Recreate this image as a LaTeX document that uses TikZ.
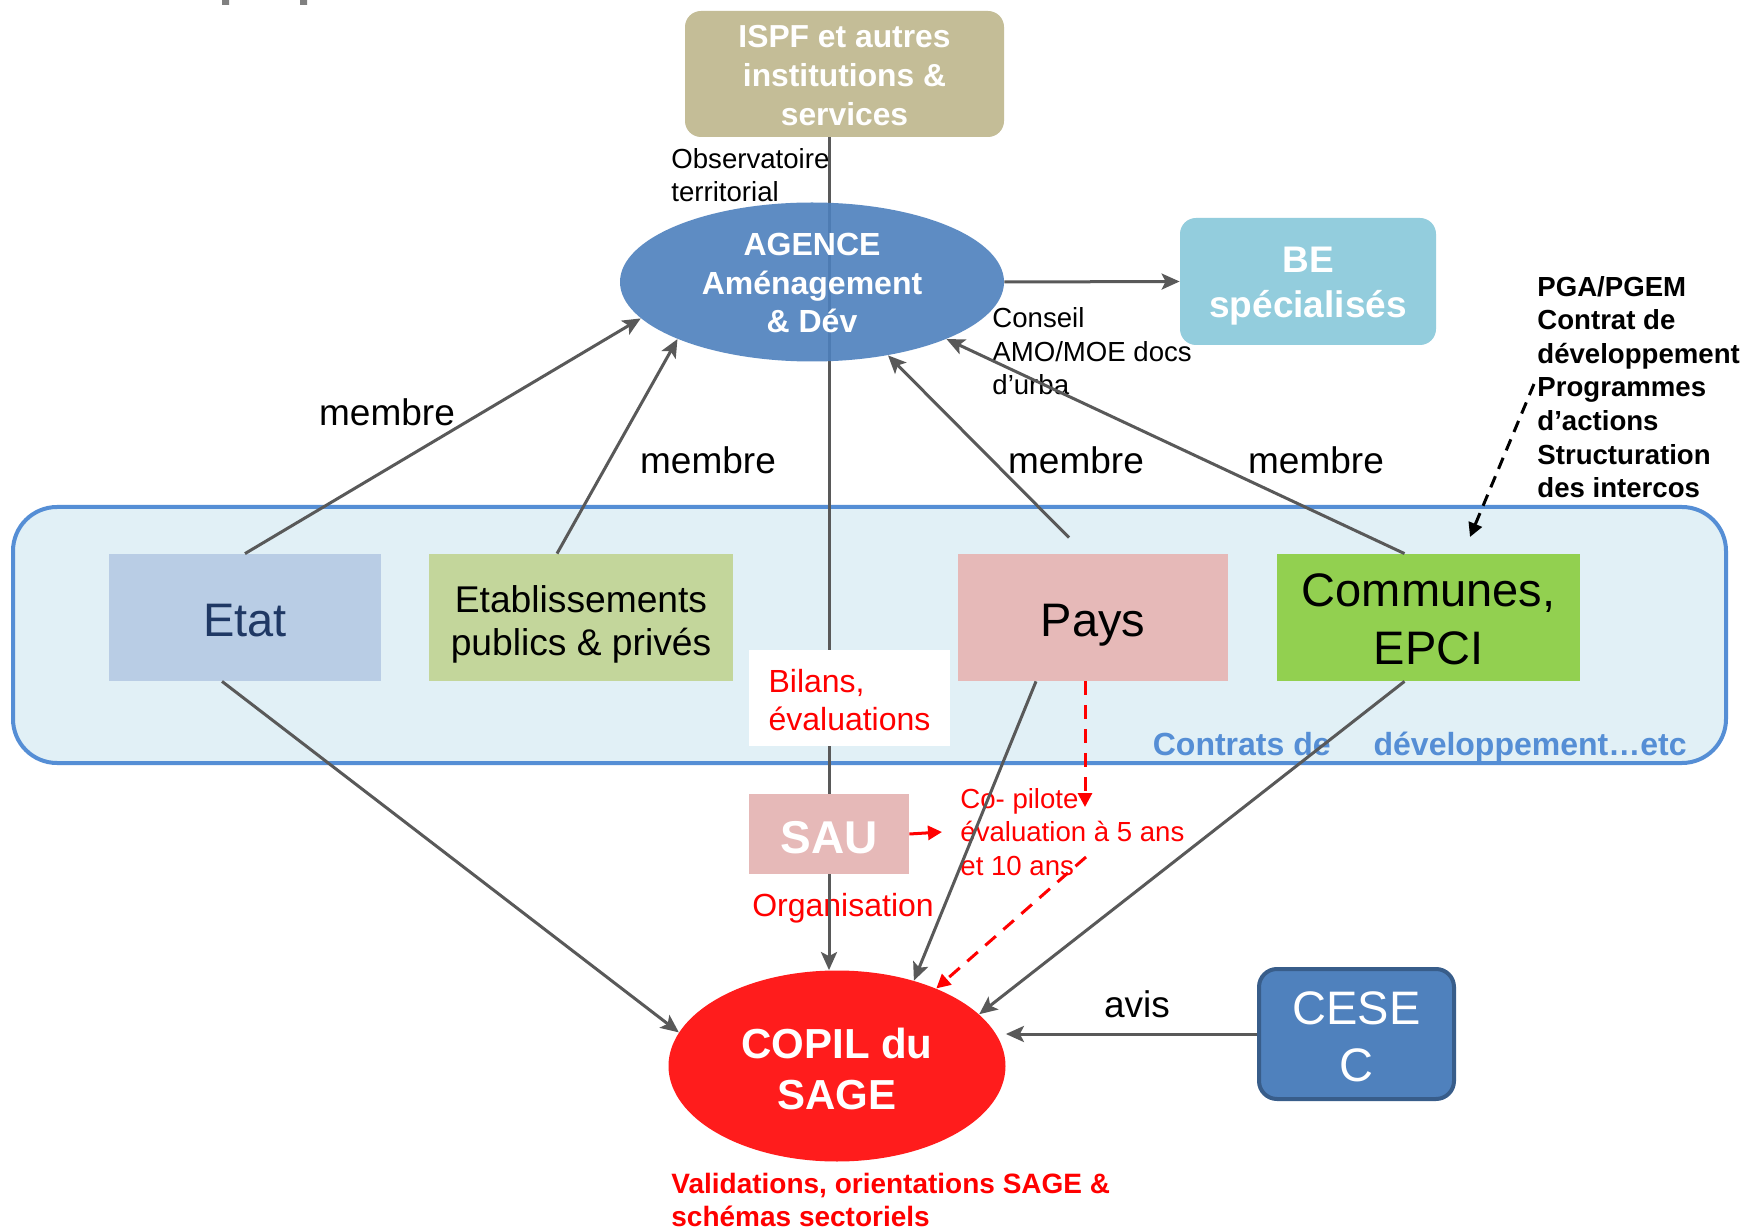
\documentclass[tikz,border=0pt]{standalone}
\usepackage{fontspec}
\setmainfont{Liberation Sans}
\usetikzlibrary{arrows.meta,shapes.geometric,calc}
\definecolor{gristrait}{HTML}{595959}
\definecolor{beige}{HTML}{C4BD97}
\definecolor{bleuagence}{HTML}{4D80BD}
\definecolor{bleube}{HTML}{93CDDD}
\definecolor{bleucadre}{HTML}{558ED5}
\definecolor{fondcadre}{HTML}{E1F0F6}
\definecolor{bleuetat}{HTML}{B9CDE5}
\definecolor{marine}{HTML}{1F3864}
\definecolor{vertetab}{HTML}{C3D69B}
\definecolor{rosepays}{HTML}{E6B9B8}
\definecolor{vertcommune}{HTML}{92D050}
\definecolor{rougecopil}{HTML}{FF1C1C}
\definecolor{bleucese}{HTML}{4F81BD}
\definecolor{bordcese}{HTML}{385D8A}
% abaisse une ligne de texte sans changer la boite
\newcommand{\bas}[2][1.5pt]{\raisebox{-#1}[\height][\depth]{#2}}
\tikzset{
  fleche/.style ={draw=gristrait,line width=1.5pt,-{Stealth[length=9pt,width=8pt,inset=2pt]}},
  tiret/.style  ={draw=red,line width=1.5pt,dash pattern=on 7pt off 5pt,-{Triangle[length=7pt,width=7pt]}},
  acteur/.style ={rectangle,inner sep=0pt,minimum height=63.5pt,align=center,
                  font=\fontsize{23.5}{29}\selectfont},
  arrondi/.style={rectangle,rounded corners=8pt,inner sep=0pt,align=center,text=white},
  legende/.style={inner sep=0pt,align=left,font=\fontsize{13.8}{16.7}\selectfont},
  membre/.style ={inner sep=0pt,font=\fontsize{18.5}{22}\selectfont},
}
\begin{document}
\begin{tikzpicture}[x=0.5pt,y=-0.5pt]
\useasboundingbox (0,0) rectangle (1746,1229);
\fill[white] (0,0) rectangle (1746,1229);
\fill[gray] (222,0) rectangle (229,5) (300,0) rectangle (307,5);
% cadre des contrats
\draw[draw=bleucadre,fill=fondcadre,line width=2pt,rounded corners=22pt] (13,507) rectangle (1726,763);
\node[font=\bfseries\fontsize{16}{19}\selectfont,text=bleucadre,inner sep=0pt,anchor=east]
  (contrats) at (1687,747) {Contrats de\hspace{21.5pt}développement…etc};

\node[arrondi,fill=beige,minimum width=159.5pt,minimum height=63pt,
      font=\bfseries\fontsize{15.9}{19.5}\selectfont] (ispf) at (844.5,74)
  {\bas[0.8pt]{ISPF et autres}\\\bas[0.8pt]{institutions \&}\\\bas[0.8pt]{services}};
\node[arrondi,fill=bleube,minimum width=128pt,minimum height=63.5pt,
      font=\bfseries\fontsize{18.5}{22.5}\selectfont] (be) at (1308,281.5)
  {\bas[2.5pt]{BE}\\\bas[2.5pt]{spécialisés}};

\node[acteur,fill=bleuetat,minimum width=136pt,text=marine] (etat) at (245,617.5) {\bas[1.7pt]{Etat}};
\node[acteur,fill=vertetab,minimum width=152pt,font=\fontsize{18.6}{21.5}\selectfont]
  (etab) at (581,617.5) {\bas[3.3pt]{Etablissements}\\\bas[3.3pt]{publics \& privés}};
\node[acteur,fill=rosepays,minimum width=135pt] (pays) at (1093,617.5) {\bas[3.9pt]{Pays}};
\node[acteur,fill=vertcommune,minimum width=151.5pt] (communes) at (1428.5,617.5)
  {\bas[1.1pt]{Communes,}\\\bas[1.1pt]{EPCI}};

\node[rectangle,fill=rosepays,minimum width=80pt,minimum height=40pt,inner sep=0pt,text=white,
      font=\bfseries\fontsize{23}{27}\selectfont] (sau) at (829,834) {\bas[1.7pt]{SAU}};

% axe vertical
\draw[gristrait,line width=1.5pt] (sau.north |- ispf.south) -- (sau.north);
\node[shape=ellipse,fill=bleuagence,fill opacity=0.9,text opacity=1,text=white,inner sep=0pt,
      minimum width=192pt,minimum height=79.5pt,align=center,
      font=\bfseries\fontsize{16}{19.3}\selectfont] (agence) at (812,282)
  {\bas[0.5pt]{AGENCE}\\\bas[0.5pt]{Aménagement}\\\bas[0.5pt]{\& Dév}};
\node[rectangle,fill=white,minimum width=100.5pt,minimum height=48pt,inner sep=0pt,align=left,
      text=red,font=\fontsize{16}{19}\selectfont] (bilans) at (849.5,698)
  {\bas[0.8pt]{Bilans,}\\\bas[0.8pt]{évaluations}};

\node[shape=ellipse,fill=rougecopil,text=white,inner sep=0pt,minimum width=168.5pt,
      minimum height=95.5pt,align=center,font=\bfseries\fontsize{21}{25.5}\selectfont]
  (copil) at (837,1066) {\bas[1.7pt]{COPIL du}\\\bas[1.7pt]{SAGE}};
\node[arrondi,fill=bleucese,draw=bordcese,line width=2pt,rounded corners=9pt,
      minimum width=97.5pt,minimum height=65pt,font=\fontsize{23.5}{28.5}\selectfont]
  (cese) at (1356.5,1034) {\bas[1.4pt]{CESE}\\\bas[1.4pt]{C}};

% textes
\node[legende,anchor=west] (observ) at (671,175) {Observatoire\\territorial};
\node[legende,anchor=west] (conseil) at (992,351.5) {Conseil\\AMO/MOE docs\\d’urba};
\node[legende,anchor=west,font=\bfseries\fontsize{13.8}{16.8}\selectfont] (pga) at (1537,387)
  {PGA/PGEM\\Contrat de\\développement\\Programmes\\d’actions\\Structuration\\des intercos};
\node[legende,anchor=west,text=red,inner xsep=9pt] (copilote) at (942,832)
  {Co- pilote\\évaluation à 5 ans\\et 10 ans};
\node[inner sep=0pt,text=red,font=\fontsize{16}{19}\selectfont] (organis) at (843,908.5) {Organisation};
\node[legende,anchor=west,text=red,font=\bfseries\fontsize{14}{16.5}\selectfont] (valid) at (671,1199.5)
  {Validations, orientations SAGE \&\\schémas sectoriels};
\node[membre] (m1) at (387,412) {membre};
\node[membre] (m2) at (708,460) {membre};
\node[membre] (m3) at (1076,460) {membre};
\node[membre] (m4) at (1316,460) {membre};
\node[membre] (avis) at (1137,1004) {avis};

% liaisons
\draw[fleche] (etat.north) -- (agence.192);
\draw[fleche] ([xshift=-12pt]etab.north) -- (agence.203);
\draw[fleche] ([shift={(-12pt,8pt)}]pays.north) -- (agence.316);
\draw[fleche] ([xshift=-12pt]communes.north) -- (agence.337);
\draw[fleche] (agence.east) -- (be.west);
\draw[fleche] ([xshift=-11.5pt]etat.south) -- (copil.168);
\draw[fleche] ([xshift=-28.5pt]pays.south) -- (copil.48);
\draw[fleche] ([xshift=-12pt]communes.south) -- (copil.20);
\draw[fleche] (sau.south) -- (sau.south |- copil.north);
\draw[fleche] (cese.west) -- (cese.west -| copil.east);
\draw[draw=red,line width=1.5pt,-{Triangle[length=7pt,width=7pt]}] (sau.east) -- (copilote.west);
\coordinate (pilote) at (1085,807);
\coordinate (pilote2) at (1086,857);
\draw[tiret] ([xshift=-4pt]pays.south) -- (pilote);
\draw[tiret] (pilote2) -- (copil.38);
\coordinate (pgadep) at (1534,384);
\coordinate (pgafin) at (1470,537);
\draw[black,line width=1.5pt,dash pattern=on 6pt off 4pt,-{Triangle[length=7pt,width=7pt]}] (pgadep) -- (pgafin);
\end{tikzpicture}
\end{document}
